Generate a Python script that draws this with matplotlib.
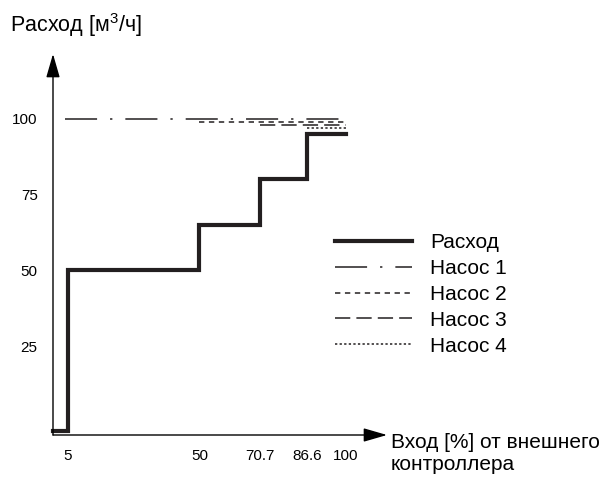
import matplotlib
matplotlib.use("Agg")
from matplotlib import pyplot as plt

plt.rcParams["font.family"] = ["Liberation Sans", "DejaVu Sans"]
plt.rcParams["mathtext.fontset"] = "custom"
plt.rcParams["mathtext.rm"] = "Liberation Sans"
plt.rcParams["mathtext.it"] = "Liberation Sans"

# data
flow_x = [0, 5, 50, 70.7, 86.6, 100]
flow_y = [-3, 50, 65, 80, 95, 95]
pump_start = [4, 50, 70.7, 86.6]
pump_level = [100, 99, 98, 97]
pump_names = ["Насос 1", "Насос 2", "Насос 3", "Насос 4"]
x_ticks = [5, 50, 70.7, 86.6, 100]
x_tick_labels = ["5", "50", "70.7", "86.6", "100"]
y_ticks = [25, 50, 75, 100]

pump_styles = [
    (0, (21, 8.5, 1.5, 8.5)),
    (0, (3.5, 3)),
    (0, (10, 4)),
    (0, (1.5, 1.5)),
]
ink = "#231f20"

fig = plt.figure(figsize=(6.09, 4.8), dpi=100)
ax = fig.add_axes([53 / 609, 45 / 480, 334 / 609, 381 / 480])
ax.set_xlim(0, 114)
ax.set_ylim(-4.3, 121.4)
for s in ax.spines.values():
    s.set_visible(False)

handles = []
(h,) = ax.plot(flow_x, flow_y, drawstyle="steps-post", color=ink, lw=3.0,
               solid_joinstyle="miter", label="Расход", clip_on=False)
handles.append(h)
for x0, lvl, name, ls in zip(pump_start, pump_level, pump_names, pump_styles):
    (h,) = ax.plot([x0, 100], [lvl, lvl], color=ink, lw=1.1, linestyle=ls,
                   label=name, clip_on=False)
    handles.append(h)

# axes with arrows
arrow = dict(arrowstyle="-|>,head_length=1.45,head_width=0.42", color="black",
             lw=1.0, mutation_scale=10, shrinkA=0, shrinkB=0)
ax.annotate("", xy=(0, 1), xytext=(0, 0), xycoords="axes fraction",
            textcoords="axes fraction", arrowprops=arrow, annotation_clip=False)
ax.annotate("", xy=(1, 0), xytext=(0, 0), xycoords="axes fraction",
            textcoords="axes fraction", arrowprops=arrow, annotation_clip=False)

ax.set_xticks(x_ticks, x_tick_labels)
ax.set_yticks(y_ticks, [str(v) for v in y_ticks])
ax.tick_params(axis="x", length=0, pad=10, labelsize=11)
ax.tick_params(axis="y", length=0, pad=11, labelsize=11)

leg = ax.legend(handles=handles, loc="upper left", bbox_to_anchor=(0.845, 0.53),
                frameon=False, fontsize=15, handlelength=3.7, handletextpad=0.85,
                labelspacing=0.33, borderaxespad=0, borderpad=0)
for lh in leg.get_lines():
    lh.set_color(ink)

fig.text(10 / 609, 1 - 25 / 480, "Расход [м$^{3}$/ч]", fontsize=15.5,
         ha="left", va="center")
fig.text(391 / 609, 1 - 453 / 480, "Вход [%] от внешнего\nконтроллера",
         fontsize=15, ha="left", va="center", linespacing=1.2)

fig.savefig("out.png", dpi=100)
